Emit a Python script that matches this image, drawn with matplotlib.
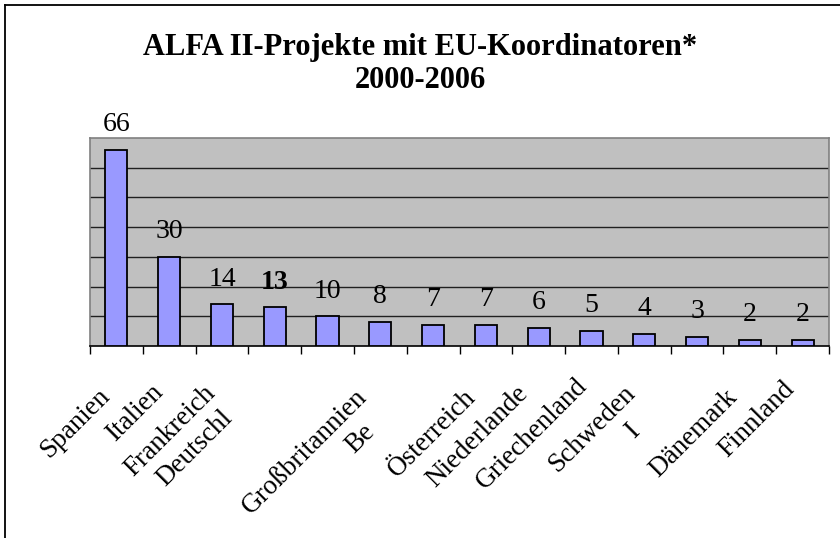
import matplotlib.pyplot as plt
from matplotlib.lines import Line2D

# data
values = [66, 30, 14, 13, 10, 8, 7, 7, 6, 5, 4, 3, 2, 2]
value_labels = ['66', '30', '14', '13', '10', '8', '7', '7', '6', '5', '4', '3', '2', '2']
country_labels = ['Spanien', 'Italien', 'Frankreich', 'Deutschl', 'Großbritannien', 'Be',
                  'Österreich', 'Niederlande', 'Griechenland', 'Schweden', 'I',
                  'Dänemark', 'Finnland']
title_text = 'ALFA II-Projekte mit EU-Koordinatoren*\n2000-2006'

# label placement (x in category units, y offset below axis in points)
label_x = [-0.03, 0.98, 1.97, 2.3, 4.85, 5.0, 6.9, 7.9, 9.02, 9.93, 10.0, 11.86, 12.95]
label_dy = [-27, -24, -25, -43, -28, -53, -28, -25, -20, -25, -53, -28, -22]
bold_idx = [3]

plt.rcParams['font.family'] = ['Liberation Serif', 'DejaVu Serif']

fig = plt.figure(figsize=(8.4, 5.38), dpi=100)
ax = fig.add_axes([90 / 840, 192 / 538, 739 / 840, 208 / 538])
ax.set_facecolor('#C0C0C0')

x = list(range(len(values)))
ax.bar(x, values, width=0.42, color='#9999FF', edgecolor='black', linewidth=1.3, zorder=3)

ax.set_xlim(-0.5, len(values) - 0.5)
ax.set_ylim(0, 70)
ax.set_yticks(range(10, 70, 10))
ax.yaxis.grid(True, color='#202020', linewidth=1.0, zorder=1)
ax.tick_params(axis='y', length=0, labelleft=False)

# tick marks between categories
ax.set_xticks([])
ax.set_xticks([i - 0.5 for i in range(len(values) + 1)], minor=True)
ax.tick_params(axis='x', which='minor', length=6, width=1, color='black', direction='out')

for side in ['left', 'top', 'right']:
    ax.spines[side].set_color('#808080')
    ax.spines[side].set_linewidth(1.2)
ax.spines['bottom'].set_color('black')
ax.spines['bottom'].set_linewidth(1.2)

# data labels
for i, v in enumerate(values):
    ax.annotate(value_labels[i], (i, v), xytext=(0, 13.5), textcoords='offset points',
                ha='center', va='baseline', fontsize=20,
                fontweight='bold' if i in bold_idx else 'normal')

# category labels
for lab, lx, dy in zip(country_labels, label_x, label_dy):
    ax.annotate(lab, (lx, 0), xytext=(0, dy), textcoords='offset points',
                ha='right', va='top', rotation=45, fontsize=19.5,
                annotation_clip=False)

fig.text(0.5, 1 - 64 / 538, title_text, ha='center', va='center',
         fontsize=22, fontweight='bold', linespacing=1.2)

# outer frame (left and top edge visible)
fig.add_artist(Line2D([4.5 / 840, 4.5 / 840], [0, 1 - 5 / 538], color='black', linewidth=1.3,
                      transform=fig.transFigure))
fig.add_artist(Line2D([4.5 / 840, 1], [1 - 5 / 538, 1 - 5 / 538], color='black', linewidth=1.3,
                      transform=fig.transFigure))

plt.savefig('out.png', dpi=100)
